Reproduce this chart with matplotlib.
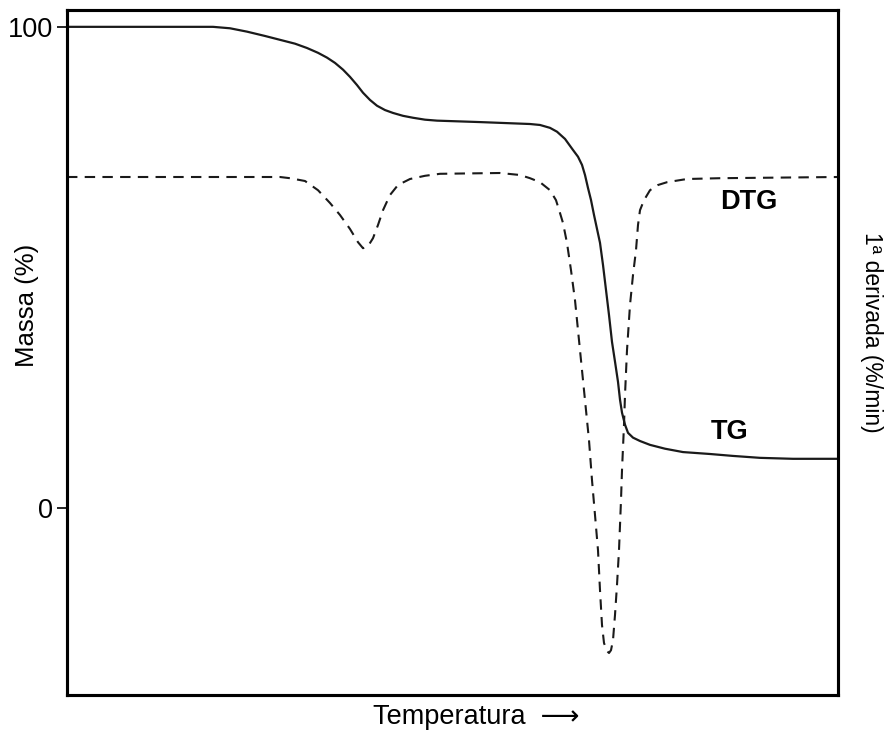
import numpy as np
import matplotlib.pyplot as plt

plt.rcParams['font.family'] = ['Liberation Sans', 'DejaVu Sans']

# ---- data (temperature in arbitrary units) ----
tg_temp = [0, 146, 163, 180, 198, 213, 228, 240, 251, 260, 268, 276, 283, 290,
           296, 303, 310, 318, 326, 336, 346, 358, 370, 413, 463, 473, 483, 490,
           498, 506, 511, 515, 518, 521, 524, 527, 530, 533, 536, 539, 542, 545,
           548, 551, 553, 555, 558, 561, 566, 573, 583, 598, 616, 643, 666, 693,
           726, 771]
tg_mass = [100, 100, 99.7, 99.0, 98.1, 97.3, 96.5, 95.6, 94.6, 93.6, 92.5, 91.1,
           89.6, 87.9, 86.3, 84.8, 83.6, 82.7, 82.1, 81.5, 81.1, 80.7, 80.5, 80.2,
           79.8, 79.6, 79.0, 78.2, 76.7, 74.4, 73.0, 71.3, 69.2, 66.5, 64.0, 60.9,
           58.0, 55.1, 50.5, 45.3, 40.1, 34.5, 30.4, 26.2, 22.5, 19.8, 17.3, 15.6,
           14.6, 13.9, 13.1, 12.3, 11.6, 11.2, 10.8, 10.4, 10.2, 10.2]

dtg_temp = [0, 213, 223, 238, 251, 263, 273, 283, 291, 296, 301, 306, 311, 316,
            323, 331, 343, 358, 373, 433, 453, 463, 473, 483, 489, 493, 496, 500,
            504, 508, 513, 518, 522, 525, 528, 531, 533, 535, 537, 540, 542, 544,
            546, 548, 550, 552, 554, 555, 557, 558, 560, 563, 566, 569, 571, 573,
            577, 583, 591, 600, 620, 653, 771]
dtg_rate = [0, 0, -0.03, -0.10, -0.33, -0.65, -0.95, -1.30, -1.63, -1.78, -1.73,
            -1.53, -1.20, -0.83, -0.45, -0.20, -0.05, 0.03, 0.08, 0.10, 0.05,
            -0.03, -0.13, -0.33, -0.58, -0.90, -1.15, -1.65, -2.33, -3.08, -4.33,
            -5.58, -6.58, -7.58, -8.45, -9.33, -10.33, -11.20, -11.65, -11.85,
            -11.90, -11.83, -11.58, -10.95, -10.20, -9.33, -8.08, -7.33, -6.20,
            -5.45, -4.33, -3.20, -2.45, -1.83, -1.20, -0.83, -0.58, -0.33, -0.20,
            -0.13, -0.05, -0.03, 0]

fig = plt.figure(figsize=(8.93, 7.33), dpi=100)
ax = fig.add_axes([67 / 893, 38 / 733, 771 / 893, 685 / 733])
ax2 = ax.twinx()

ax.plot(tg_temp, tg_mass, color='#1a1a1a', lw=1.6)
ax2.plot(dtg_temp, dtg_rate, color='#1a1a1a', lw=1.5, linestyle=(0, (5, 3.5)))

ax.set_xlim(0, 771)
ax.set_ylim(-38.9, 103.5)
ax2.set_ylim(-12.95, 4.175)

ax.set_xticks([])
ax.set_yticks([0, 100])
ax.tick_params(axis='y', direction='out', length=7, width=1.2, pad=3, labelsize=19.5)
ax2.set_yticks([])

for a in (ax, ax2):
    for s in a.spines.values():
        s.set_linewidth(2.2)

ax.text(682, 63.5, 'DTG', fontsize=19.5, fontweight='bold', ha='center', va='center')
ax.text(663, 15.7, 'TG', fontsize=19.5, fontweight='bold', ha='center', va='center')

fig.text(27 / 893, 1 - 305 / 733, 'Massa (%)', rotation=90, fontsize=18.5,
         ha='center', va='center')
fig.text(872 / 893, 1 - 332 / 733, '1ª derivada (%/min)', rotation=270, fontsize=16.5,
         ha='center', va='center')
fig.text(476 / 893, 1 - 717 / 733, 'Temperatura  ⟶', fontsize=19.5,
         ha='center', va='center')

fig.savefig('out.png', dpi=100)
